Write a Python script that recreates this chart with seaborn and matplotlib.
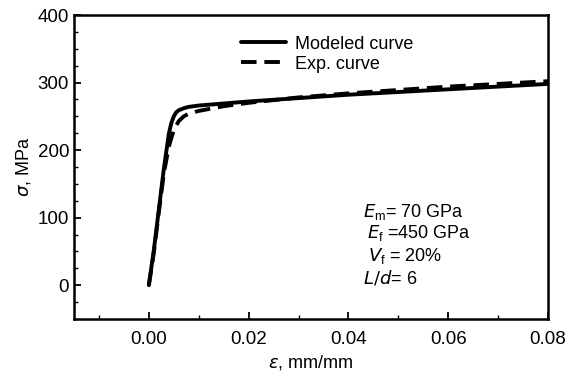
import matplotlib.pyplot as plt
import seaborn as sns
import pandas as pd
from matplotlib.ticker import MultipleLocator

# values
model_strain = [0.0, 0.001, 0.002, 0.003, 0.004, 0.0045, 0.005, 0.0055, 0.006, 0.007, 0.008, 0.010, 0.015, 0.02, 0.03, 0.04, 0.05, 0.06, 0.07, 0.08]
model_stress = [0, 52, 112, 172, 224, 240, 250, 256, 259, 262, 264, 266, 269, 272, 277, 282, 286, 290, 294, 298]
exp_strain = [0.0, 0.001, 0.002, 0.003, 0.004, 0.005, 0.006, 0.007, 0.008, 0.010, 0.015, 0.02, 0.03, 0.04, 0.05, 0.06, 0.07, 0.08]
exp_stress = [0, 48, 108, 165, 205, 230, 243, 250, 254, 258, 265, 270, 278, 284, 289, 294, 298, 302]

df = pd.concat([
    pd.DataFrame({"strain": model_strain, "stress": model_stress, "curve": "Modeled curve"}),
    pd.DataFrame({"strain": exp_strain, "stress": exp_stress, "curve": "Exp. curve"}),
])

sns.set_theme(style="ticks", rc={"text.color": "black", "axes.labelcolor": "black",
                                 "xtick.color": "black", "ytick.color": "black"})
plt.rcParams['font.family'] = ['Liberation Sans', 'DejaVu Sans']

fig = plt.figure(figsize=(5.69, 3.72), dpi=100)
ax = fig.add_axes([74 / 569, 1 - 319 / 372, (548 - 74) / 569, (319 - 15) / 372])

sns.lineplot(data=df, x="strain", y="stress", hue="curve", style="curve",
             palette={"Modeled curve": "black", "Exp. curve": "black"},
             dashes={"Modeled curve": "", "Exp. curve": (4, 2)},
             linewidth=2.8, ax=ax, sort=False)

ax.set_xlim(-0.015, 0.08)
ax.set_ylim(-50, 400)
ax.xaxis.set_major_locator(MultipleLocator(0.02))
ax.xaxis.set_minor_locator(MultipleLocator(0.01))
ax.yaxis.set_major_locator(MultipleLocator(100))
ax.yaxis.set_minor_locator(MultipleLocator(25))
ax.xaxis.set_major_formatter(plt.FuncFormatter(lambda v, p: f"{v:.2f}"))
ax.tick_params(which="both", direction="in", top=False, right=False, labelsize=13.5,
               color="black", labelcolor="black")
ax.tick_params(which="major", length=5, width=1.3)
ax.tick_params(which="minor", length=3, width=1)
ax.tick_params(axis="x", which="major", pad=9)
for s in ax.spines.values():
    s.set_linewidth(1.8)
    s.set_color("black")

ax.set_xlabel(r"$\varepsilon$, mm/mm", fontsize=13, labelpad=3)
ax.set_ylabel(r"$\sigma$, MPa", fontsize=13, labelpad=3)

leg = ax.legend(loc="upper center", bbox_to_anchor=(0.535, 0.985), frameon=False,
                fontsize=13, handlelength=2.5, handletextpad=0.5, labelspacing=0.15)
for h in leg.get_lines():
    h.set_linewidth(2.8)

notes = [
    (0.610, 0.336, r"$E_\mathregular{m}$= 70 GPa"),
    (0.618, 0.266, r"$E_\mathregular{f}$ =450 GPa"),
    (0.620, 0.191, r"$V_\mathregular{f}$ = 20%"),
    (0.610, 0.118, r"$L/d$= 6"),
]
for x, y, s in notes:
    ax.text(x, y, s, transform=ax.transAxes, fontsize=13, va="baseline", color="black")

plt.savefig("out.png", dpi=100)
